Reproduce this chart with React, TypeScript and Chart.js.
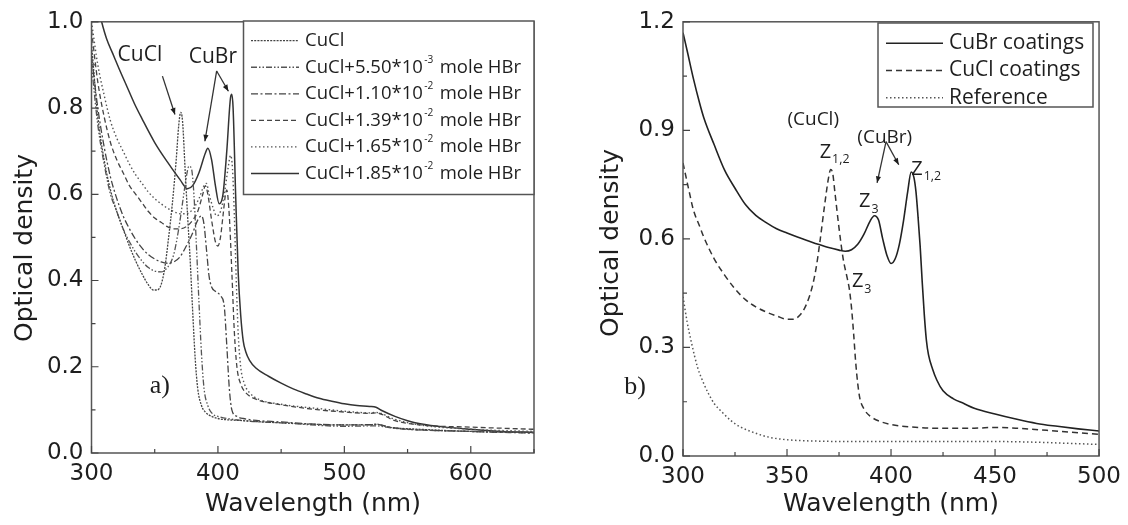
import React, { useEffect, useRef } from "react";
import { Chart, registerables } from "chart.js";

Chart.register(...registerables);

type Pt = [number, number];

/* ---------------- panel a) data ---------------- */
const labelsA = [
  "CuCl",
  "CuCl+5.50*10⁻³ mole HBr",
  "CuCl+1.10*10⁻² mole HBr",
  "CuCl+1.39*10⁻² mole HBr",
  "CuCl+1.65*10⁻² mole HBr",
  "CuCl+1.85*10⁻² mole HBr",
];

const aCuCl: Pt[] = [
  [300, 0.95], [305, 0.78], [310, 0.68], [315, 0.61], [320, 0.56], [325, 0.52], [330, 0.48],
  [335, 0.445], [340, 0.415], [345, 0.39], [349, 0.378], [352, 0.378], [355, 0.39], [358, 0.43],
  [361, 0.5], [364, 0.58], [367, 0.68], [369, 0.76], [370.5, 0.79], [372, 0.77], [374, 0.66],
  [376, 0.55], [378, 0.45], [380, 0.33], [382, 0.22], [384, 0.15], [387, 0.11], [390, 0.095],
  [395, 0.085], [400, 0.08], [420, 0.075], [450, 0.07], [500, 0.065], [520, 0.065], [525, 0.067],
  [535, 0.06], [560, 0.055], [600, 0.05], [650, 0.047],
];
const aHBr550: Pt[] = [
  [300, 0.9], [305, 0.76], [310, 0.67], [315, 0.6], [320, 0.56], [325, 0.52], [330, 0.49],
  [335, 0.465], [340, 0.445], [345, 0.43], [350, 0.422], [355, 0.42], [360, 0.43], [365, 0.46],
  [369, 0.52], [372, 0.58], [375, 0.64], [377, 0.665], [379, 0.66], [381, 0.6], [383, 0.48],
  [385, 0.35], [387, 0.23], [389, 0.15], [392, 0.11], [396, 0.09], [400, 0.085], [420, 0.075],
  [450, 0.07], [500, 0.062], [525, 0.063], [540, 0.057], [600, 0.05], [650, 0.048],
];
const aHBr110: Pt[] = [
  [300, 0.92], [305, 0.8], [310, 0.71], [315, 0.64], [320, 0.59], [325, 0.55], [330, 0.52],
  [335, 0.495], [340, 0.475], [345, 0.46], [350, 0.45], [355, 0.443], [360, 0.44], [365, 0.443],
  [370, 0.455], [375, 0.48], [380, 0.51], [384, 0.54], [387, 0.55], [389, 0.53], [391, 0.47],
  [393, 0.41], [395, 0.385], [398, 0.375], [402, 0.365], [405, 0.34], [407, 0.25], [409, 0.15],
  [411, 0.1], [415, 0.085], [420, 0.08], [450, 0.072], [500, 0.065], [525, 0.066], [540, 0.058],
  [600, 0.05], [650, 0.046],
];
const aHBr139: Pt[] = [
  [300, 0.98], [305, 0.86], [310, 0.78], [315, 0.72], [320, 0.68], [325, 0.65], [330, 0.62],
  [335, 0.6], [340, 0.58], [345, 0.56], [350, 0.545], [355, 0.535], [360, 0.525], [365, 0.52],
  [370, 0.52], [375, 0.525], [380, 0.54], [384, 0.56], [388, 0.6], [390, 0.62], [392, 0.6],
  [395, 0.54], [398, 0.49], [400, 0.48], [402, 0.5], [404, 0.55], [406, 0.6], [407, 0.61],
  [409, 0.55], [411, 0.42], [413, 0.28], [415, 0.2], [418, 0.16], [422, 0.14], [430, 0.125],
  [450, 0.112], [480, 0.1], [500, 0.095], [520, 0.092], [525, 0.093], [540, 0.075], [560, 0.065],
  [600, 0.06], [650, 0.055],
];
const aHBr165: Pt[] = [
  [300, 1.0], [305, 0.9], [310, 0.83], [315, 0.77], [320, 0.73], [325, 0.7], [330, 0.67],
  [335, 0.645], [340, 0.625], [345, 0.605], [350, 0.59], [355, 0.578], [360, 0.568], [365, 0.56],
  [370, 0.555], [375, 0.555], [380, 0.565], [385, 0.59], [389, 0.62], [391, 0.625], [393, 0.6],
  [396, 0.57], [399, 0.55], [402, 0.56], [405, 0.6], [408, 0.66], [410, 0.69], [411.5, 0.66],
  [413, 0.55], [414.5, 0.4], [416, 0.28], [418, 0.2], [421, 0.16], [425, 0.14], [432, 0.125],
  [450, 0.113], [480, 0.103], [500, 0.097], [520, 0.093], [525, 0.094], [540, 0.078], [560, 0.065],
  [600, 0.055], [650, 0.05],
];
const aHBr185: Pt[] = [
  [304, 1.05], [308, 1.0], [312, 0.96], [317, 0.925], [322, 0.89], [328, 0.85], [334, 0.81],
  [340, 0.775], [350, 0.72], [360, 0.675], [370, 0.634], [376, 0.613], [380, 0.62], [385, 0.65],
  [390, 0.695], [392, 0.707], [395, 0.68], [398, 0.62], [401, 0.578], [404, 0.6], [407, 0.7],
  [410, 0.825], [411, 0.832], [412, 0.8], [414, 0.6], [416, 0.42], [418, 0.32], [420, 0.26],
  [422, 0.235], [425, 0.215], [430, 0.197], [440, 0.178], [450, 0.162], [460, 0.148], [470, 0.137],
  [480, 0.127], [490, 0.12], [500, 0.114], [510, 0.11], [520, 0.108], [525, 0.106], [530, 0.098],
  [540, 0.085], [550, 0.075], [560, 0.068], [580, 0.06], [600, 0.055], [625, 0.05], [650, 0.048],
];

const xTicksA = [300, 400, 500, 600];
const xMinorA = [350, 450, 550, 650];
const yTicksA = [0, 0.2, 0.4, 0.6, 0.8, 1.0];
const yMinorA = [0.1, 0.3, 0.5, 0.7, 0.9];

/* ---------------- panel b) data ---------------- */
const labelsB = ["CuBr coatings", "CuCl coatings", "Reference"];

const bCuBr: Pt[] = [
  [300, 1.17], [302, 1.12], [305, 1.043], [308, 0.975], [310, 0.935], [315, 0.86], [320, 0.79],
  [325, 0.74], [330, 0.695], [335, 0.665], [340, 0.645], [345, 0.628], [350, 0.616], [355, 0.605],
  [360, 0.595], [365, 0.585], [370, 0.576], [375, 0.569], [378, 0.566], [381, 0.57], [384, 0.585],
  [387, 0.613], [390, 0.65], [392, 0.664], [394, 0.652], [396, 0.6], [398, 0.555], [400, 0.532],
  [402, 0.545], [404, 0.585], [406, 0.65], [408, 0.73], [409.7, 0.785], [411, 0.77], [412, 0.73],
  [413, 0.66], [414, 0.58], [415, 0.48], [416, 0.39], [417, 0.32], [418, 0.28], [420, 0.24],
  [422, 0.21], [425, 0.18], [430, 0.158], [435, 0.145], [440, 0.132], [450, 0.116], [460, 0.102],
  [470, 0.09], [480, 0.082], [490, 0.075], [500, 0.069],
];
const bCuCl: Pt[] = [
  [300, 0.81], [303, 0.73], [305, 0.68], [308, 0.635], [310, 0.605], [315, 0.545], [320, 0.5],
  [325, 0.462], [330, 0.432], [335, 0.412], [340, 0.398], [345, 0.387], [350, 0.378], [353, 0.378],
  [356, 0.388], [359, 0.415], [362, 0.465], [364, 0.52], [366, 0.6], [368, 0.69], [370, 0.77],
  [371, 0.792], [372, 0.78], [373, 0.73], [375, 0.63], [377, 0.545], [379, 0.49], [380, 0.46],
  [381, 0.41], [382, 0.34], [383, 0.26], [384, 0.2], [385, 0.16], [387, 0.13], [390, 0.11],
  [395, 0.095], [400, 0.087], [410, 0.08], [420, 0.077], [440, 0.077], [450, 0.079], [460, 0.077],
  [475, 0.071], [490, 0.064], [500, 0.06],
];
const bReference: Pt[] = [
  [300, 0.44], [302, 0.37], [304, 0.315], [307, 0.245], [310, 0.2], [312, 0.175], [315, 0.145],
  [319, 0.12], [323, 0.098], [328, 0.079], [333, 0.067], [338, 0.057], [343, 0.05], [348, 0.046],
  [355, 0.043], [365, 0.041], [380, 0.04], [400, 0.04], [420, 0.04], [450, 0.04], [470, 0.038],
  [490, 0.034], [500, 0.032],
];

const xTicksB = [300, 350, 400, 450, 500];
const xMinorB = [325, 375, 425, 475];
const yTicksB = [0, 0.3, 0.6, 0.9, 1.2];
const yMinorB = [0.15, 0.45, 0.75, 1.05];

/* ---------------- drawing helpers ---------------- */
const TICK_FONT = "'DejaVu Sans', sans-serif";
const LABEL_FONT = "'Open Sans', sans-serif";
const SERIF_FONT = "'Liberation Serif', 'Times New Roman', serif";
const INK = "#1e1e1e";
const FRAME = "#555";

const SUPMAP: Record<string, string> = {
  "⁻": "-", "⁰": "0", "¹": "1", "²": "2", "³": "3", "⁴": "4", "⁵": "5", "⁶": "6", "⁷": "7", "⁸": "8", "⁹": "9",
};

function drawRich(ctx: CanvasRenderingContext2D, text: string, x: number, y: number, size: number, family: string) {
  const runs: [string, boolean][] = [];
  let cur = "";
  let curSup = false;
  for (const ch of Array.from(text)) {
    const s = ch in SUPMAP;
    if (s !== curSup && cur) {
      runs.push([cur, curSup]);
      cur = "";
    }
    curSup = s;
    cur += s ? SUPMAP[ch] : ch;
  }
  if (cur) runs.push([cur, curSup]);
  let cx = x;
  ctx.textAlign = "left";
  ctx.textBaseline = "middle";
  for (const [t, s] of runs) {
    const fs = s ? size * 0.55 : size;
    ctx.font = `${fs}px ${family}`;
    ctx.fillText(t, cx + (s ? 1.5 : 0), s ? y - size * 0.4 : y);
    cx += ctx.measureText(t).width + (s ? 3 : 0);
  }
}

function drawZ(ctx: CanvasRenderingContext2D, main: string, sub: string, x: number, baseY: number, size: number) {
  ctx.textAlign = "left";
  ctx.textBaseline = "alphabetic";
  ctx.font = `${size}px ${LABEL_FONT}`;
  ctx.fillText(main, x, baseY);
  const w = ctx.measureText(main).width;
  ctx.font = `${size * 0.62}px ${LABEL_FONT}`;
  ctx.fillText(sub, x + w + 1, baseY + size * 0.28);
}

function arrow(ctx: CanvasRenderingContext2D, x1: number, y1: number, x2: number, y2: number, head = 7) {
  ctx.beginPath();
  ctx.moveTo(x1, y1);
  ctx.lineTo(x2, y2);
  ctx.stroke();
  const a = Math.atan2(y2 - y1, x2 - x1);
  ctx.beginPath();
  ctx.moveTo(x2, y2);
  ctx.lineTo(x2 - head * Math.cos(a - 0.38), y2 - head * Math.sin(a - 0.38));
  ctx.lineTo(x2 - head * Math.cos(a + 0.38), y2 - head * Math.sin(a + 0.38));
  ctx.closePath();
  ctx.fill();
}

type Style = { dash: number[]; width: number; color: string };

type PanelSpec = {
  labels: string[];
  series: Pt[][];
  styles: Style[];
  xMin: number; xMax: number; yMin: number; yMax: number;
  xTicks: number[]; xMinor: number[]; yTicks: number[]; yMinor: number[];
  padTop: number; padRight: number; yAxisWidth: number; xAxisHeight: number;
  xTickPad: number; yTickPad: number;
  legendBox: [number, number, number, number];
  legendRowY: number; legendDy: number; legendLineX: [number, number]; legendTextX: number; legendFont: number;
  xTitleAt: [number, number]; yTitleAt: [number, number];
  annotate: (ctx: CanvasRenderingContext2D, px: (v: number) => number, py: (v: number) => number) => void;
};

function buildConfig(p: PanelSpec): any {
  const decor = {
    id: "decor",
    afterDraw(chart: any) {
      const ctx: CanvasRenderingContext2D = chart.ctx;
      const { left, right, top, bottom } = chart.chartArea;
      const xs = chart.scales.x;
      const ys = chart.scales.y;
      ctx.save();
      ctx.strokeStyle = FRAME;
      ctx.lineWidth = 1.5;
      ctx.setLineDash([]);
      ctx.strokeRect(left, top, right - left, bottom - top);
      ctx.lineWidth = 1.2;
      ctx.strokeStyle = "#444";
      ctx.beginPath();
      for (const v of p.xTicks) { const x = xs.getPixelForValue(v); ctx.moveTo(x, bottom); ctx.lineTo(x, bottom - 7); }
      for (const v of p.xMinor) { const x = xs.getPixelForValue(v); ctx.moveTo(x, bottom); ctx.lineTo(x, bottom - 4); }
      for (const v of p.yTicks) { const y = ys.getPixelForValue(v); ctx.moveTo(left, y); ctx.lineTo(left + 7, y); }
      for (const v of p.yMinor) { const y = ys.getPixelForValue(v); ctx.moveTo(left, y); ctx.lineTo(left + 4, y); }
      ctx.stroke();
      const [bx0, by0, bx1, by1] = p.legendBox;
      ctx.fillStyle = "#fff";
      ctx.fillRect(bx0, by0, bx1 - bx0, by1 - by0);
      ctx.strokeStyle = FRAME;
      ctx.lineWidth = 1.5;
      ctx.strokeRect(bx0, by0, bx1 - bx0, by1 - by0);
      p.labels.forEach((lab, i) => {
        const y = p.legendRowY + i * p.legendDy;
        const st = p.styles[i];
        ctx.strokeStyle = st.color;
        ctx.lineWidth = st.width;
        ctx.setLineDash(st.dash);
        ctx.beginPath();
        ctx.moveTo(p.legendLineX[0], y);
        ctx.lineTo(p.legendLineX[1], y);
        ctx.stroke();
        ctx.setLineDash([]);
        ctx.fillStyle = INK;
        drawRich(ctx, lab, p.legendTextX, y, p.legendFont, LABEL_FONT);
      });
      ctx.fillStyle = INK;
      ctx.font = `25px ${TICK_FONT}`;
      ctx.textAlign = "center";
      ctx.textBaseline = "middle";
      ctx.fillText("Wavelength (nm)", p.xTitleAt[0], p.xTitleAt[1]);
      ctx.save();
      ctx.translate(p.yTitleAt[0], p.yTitleAt[1]);
      ctx.rotate(-Math.PI / 2);
      ctx.fillText("Optical density", 0, 0);
      ctx.restore();
      ctx.fillStyle = INK;
      ctx.strokeStyle = "#333";
      ctx.lineWidth = 1.3;
      p.annotate(ctx, (v) => xs.getPixelForValue(v), (v) => ys.getPixelForValue(v));
      ctx.restore();
    },
  };

  return {
    type: "line",
    data: {
      datasets: p.series.map((s, i) => ({
        label: p.labels[i],
        data: s.map(([x, y]) => ({ x, y })),
        borderColor: p.styles[i].color,
        borderWidth: p.styles[i].width,
        borderDash: p.styles[i].dash,
        pointRadius: 0,
        fill: false,
        cubicInterpolationMode: "monotone",
      })),
    },
    options: {
      responsive: false,
      animation: false,
      events: [],
      layout: { padding: { top: p.padTop, right: p.padRight, left: 0, bottom: 0 } },
      plugins: { legend: { display: false }, tooltip: { enabled: false }, title: { display: false } },
      scales: {
        x: {
          type: "linear",
          min: p.xMin,
          max: p.xMax,
          grid: { display: false, drawTicks: false },
          border: { display: false },
          afterBuildTicks: (s: any) => { s.ticks = p.xTicks.map((v) => ({ value: v })); },
          afterFit: (s: any) => { s.height = p.xAxisHeight; },
          ticks: {
            autoSkip: false,
            maxRotation: 0,
            padding: p.xTickPad,
            color: INK,
            font: { family: TICK_FONT, size: 23 },
            callback: (v: any) => String(v),
          },
        },
        y: {
          type: "linear",
          min: p.yMin,
          max: p.yMax,
          grid: { display: false, drawTicks: false },
          border: { display: false },
          afterBuildTicks: (s: any) => { s.ticks = p.yTicks.map((v) => ({ value: v })); },
          afterFit: (s: any) => { s.width = p.yAxisWidth; },
          ticks: {
            autoSkip: false,
            padding: p.yTickPad,
            color: INK,
            font: { family: TICK_FONT, size: 23 },
            callback: (v: any) => Number(v).toFixed(1),
          },
        },
      },
    },
    plugins: [decor],
  };
}

/* ---------------- panel specs ---------------- */
const specA: PanelSpec = {
  labels: labelsA,
  series: [aCuCl, aHBr550, aHBr110, aHBr139, aHBr165, aHBr185],
  styles: [
    { dash: [2, 1.2], width: 1.3, color: "#444" },
    { dash: [6, 2, 1.5, 2, 1.5, 2], width: 1.3, color: "#555" },
    { dash: [7, 2.5, 2, 2.5], width: 1.3, color: "#444" },
    { dash: [5, 3], width: 1.3, color: "#444" },
    { dash: [1.5, 2.5], width: 1.4, color: "#555" },
    { dash: [], width: 1.5, color: "#333" },
  ],
  xMin: 300, xMax: 650, yMin: 0, yMax: 1.0,
  xTicks: xTicksA, xMinor: xMinorA, yTicks: yTicksA, yMinor: yMinorA,
  padTop: 21, padRight: 26, yAxisWidth: 91.5, xAxisHeight: 72,
  xTickPad: 7, yTickPad: 8,
  legendBox: [243.5, 21, 534, 194.5],
  legendRowY: 40.7, legendDy: 26.55, legendLineX: [251, 299], legendTextX: 305, legendFont: 18.5,
  xTitleAt: [313, 504], yTitleAt: [25, 248],
  annotate: (ctx, px, py) => {
    ctx.font = `21px ${LABEL_FONT}`;
    ctx.textAlign = "center";
    ctx.textBaseline = "middle";
    ctx.fillText("CuCl", px(338.3), py(0.922));
    ctx.fillText("CuBr", px(396), py(0.919));
    arrow(ctx, px(356.1), py(0.874), px(366), py(0.785));
    arrow(ctx, px(399), py(0.886), px(389.7), py(0.723));
    arrow(ctx, px(399), py(0.886), px(408.3), py(0.839));
    ctx.font = `26px ${SERIF_FONT}`;
    ctx.fillText("a)", px(354.1), py(0.155));
  },
};

const specB: PanelSpec = {
  labels: labelsB,
  series: [bCuBr, bCuCl, bReference],
  styles: [
    { dash: [], width: 1.6, color: "#222" },
    { dash: [6, 4], width: 1.5, color: "#333" },
    { dash: [1.5, 2.5], width: 1.5, color: "#555" },
  ],
  xMin: 300, xMax: 500, yMin: 0, yMax: 1.2,
  xTicks: xTicksB, xMinor: xMinorB, yTicks: yTicksB, yMinor: yMinorB,
  padTop: 16, padRight: 28, yAxisWidth: 119, xAxisHeight: 69,
  xTickPad: 7, yTickPad: 8,
  legendBox: [314, 23, 529, 107],
  legendRowY: 43.3, legendDy: 27.2, legendLineX: [322, 379], legendTextX: 385, legendFont: 21,
  xTitleAt: [327, 504], yTitleAt: [47, 243],
  annotate: (ctx, px, py) => {
    ctx.font = `19px ${LABEL_FONT}`;
    ctx.textAlign = "center";
    ctx.textBaseline = "middle";
    ctx.fillText("(CuCl)", px(362.6), py(0.93));
    ctx.fillText("(CuBr)", px(397), py(0.881));
    drawZ(ctx, "Z", "1,2", px(365.7), py(0.824), 20);
    drawZ(ctx, "Z", "3", px(384.6), py(0.687), 20);
    drawZ(ctx, "Z", "1,2", px(409.7), py(0.777), 20);
    drawZ(ctx, "Z", "3", px(381.2), py(0.466), 20);
    arrow(ctx, px(397.6), py(0.869), px(393.3), py(0.755));
    arrow(ctx, px(397.6), py(0.869), px(403.7), py(0.805));
    ctx.font = `26px ${SERIF_FONT}`;
    ctx.textAlign = "center";
    ctx.textBaseline = "middle";
    ctx.fillText("b)", px(277), py(0.191));
  },
};

function Panel({ left, width, spec }: { left: number; width: number; spec: PanelSpec }) {
  const ref = useRef<HTMLCanvasElement>(null);
  useEffect(() => {
    const chart = new Chart(ref.current as HTMLCanvasElement, buildConfig(spec));
    return () => chart.destroy();
  }, [spec]);
  return (
    <div style={{ position: "absolute", left, top: 0, width, height: 525 }}>
      <canvas ref={ref} width={width} height={525} style={{ display: "block", width, height: 525 }} />
    </div>
  );
}

export default function App() {
  return (
    <div style={{ position: "absolute", left: 0, top: 0, width: 1128, height: 525, background: "#fff", overflow: "hidden" }}>
      <Panel left={0} width={560} spec={specA} />
      <Panel left={564} width={564} spec={specB} />
    </div>
  );
}
